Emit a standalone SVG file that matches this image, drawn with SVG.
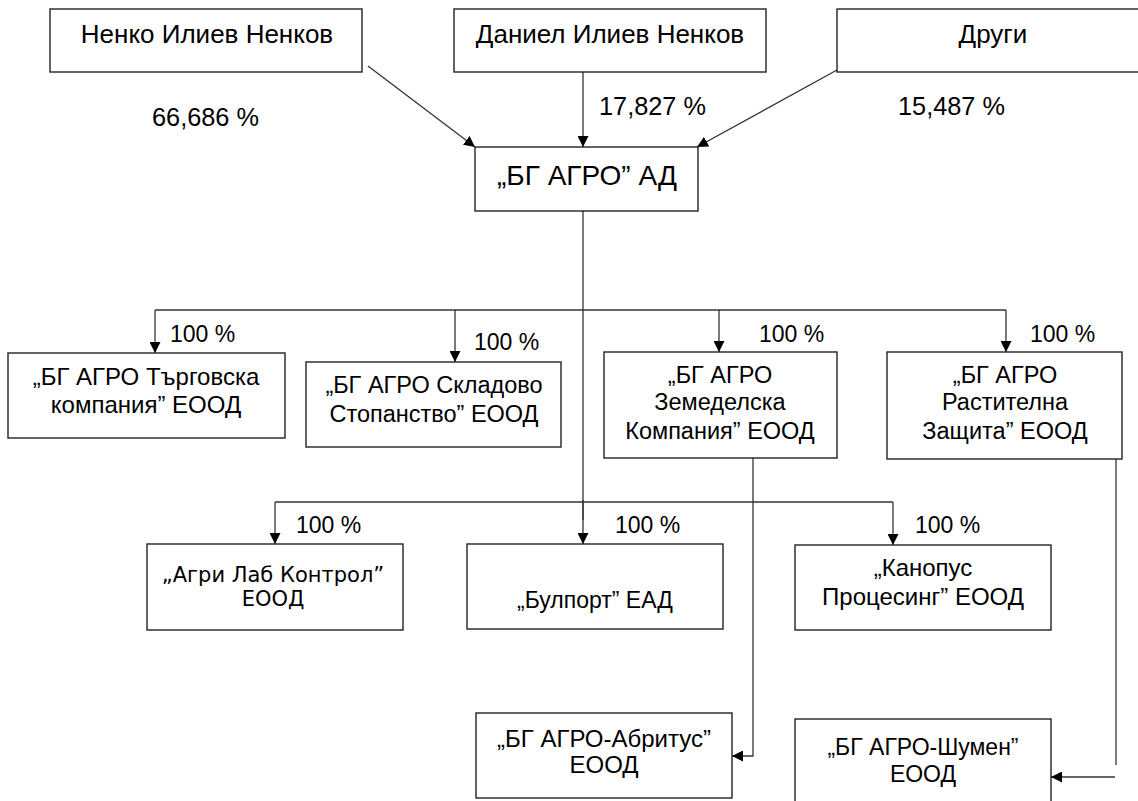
<svg xmlns="http://www.w3.org/2000/svg" width="1138" height="801" viewBox="0 0 1138 801">
<style>
.box{fill:#fff;stroke:#222;stroke-width:1.4}
.t{font-family:"Liberation Sans",Arial,sans-serif;font-size:23.5px;fill:#000;text-anchor:middle}
.big{font-size:26px}
.p{font-family:"Liberation Sans",Arial,sans-serif;font-size:23px;fill:#000}
.pb{font-size:25.3px}
.ln{fill:none;stroke:#333;stroke-width:1.3}
.arr{fill:none;stroke:#333;stroke-width:1.3;marker-end:url(#ah)}
</style>
<defs>
<marker id="ah" viewBox="0 0 10 10" refX="10" refY="5" markerWidth="11" markerHeight="11" markerUnits="userSpaceOnUse" orient="auto">
<path d="M0,0 L10,5 L0,10 Z" fill="#000"/>
</marker>
</defs>
<rect width="1138" height="801" fill="#fff"/>

<g id="connectors">
<line class="arr" x1="368" y1="66" x2="475" y2="147"/>
<line class="arr" x1="583" y1="66" x2="583" y2="147"/>
<line class="arr" x1="837" y1="70" x2="697" y2="147"/>
<line class="ln" x1="583" y1="211" x2="583" y2="520"/>
<line class="arr" x1="583" y1="500" x2="583" y2="544"/>
<line class="ln" x1="155" y1="310" x2="1006" y2="310"/>
<line class="arr" x1="155" y1="310" x2="155" y2="353"/>
<line class="arr" x1="455" y1="310" x2="455" y2="362"/>
<line class="arr" x1="719" y1="310" x2="719" y2="352"/>
<line class="arr" x1="1006" y1="310" x2="1006" y2="352"/>
<line class="ln" x1="275" y1="502" x2="893" y2="502"/>
<line class="arr" x1="275" y1="502" x2="275" y2="544"/>
<line class="arr" x1="893" y1="502" x2="893" y2="545"/>
<polyline class="arr" points="753,458 753,756 732,756"/>
<line class="ln" x1="1116" y1="459" x2="1116" y2="765"/>
<line class="arr" x1="1115" y1="777" x2="1051" y2="777"/>
</g>

<g id="n-nenko">
<rect class="box" x="50" y="9" width="312" height="63"/>
<text class="t big" x="207" y="43">Ненко Илиев Ненков</text>
</g>
<g id="n-daniel">
<rect class="box" x="454" y="9" width="312" height="63"/>
<text class="t big" x="610" y="43">Даниел Илиев Ненков</text>
</g>
<g id="n-drugi">
<rect class="box" x="837" y="9" width="313" height="63"/>
<text class="t big" x="993" y="43">Други</text>
</g>
<g id="labels-top">
<text class="p pb" x="152" y="126">66,686 %</text>
<text class="p pb" x="599" y="115">17,827 %</text>
<text class="p pb" x="898" y="115">15,487 %</text>
</g>
<g id="n-bgagro">
<rect class="box" x="475" y="147" width="223" height="64"/>
<text class="t" x="587" y="185" style="font-size:28px">„БГ АГРО” АД</text>
</g>

<g id="labels-100">
<text class="p" x="170" y="342">100 %</text>
<text class="p" x="474" y="350">100 %</text>
<text class="p" x="759" y="342">100 %</text>
<text class="p" x="1030" y="342">100 %</text>
<text class="p" x="296" y="533">100 %</text>
<text class="p" x="615" y="533">100 %</text>
<text class="p" x="915" y="533">100 %</text>
</g>

<g id="n-targovska">
<rect class="box" x="8" y="353" width="277" height="85"/>
<text class="t" x="146" y="385" style="font-size:24px">„БГ АГРО Търговска</text>
<text class="t" x="146" y="413" style="font-size:24px">компания” ЕООД</text>
</g>
<g id="n-skladovo">
<rect class="box" x="306" y="362" width="255" height="85"/>
<text class="t" x="434" y="393">„БГ АГРО Складово</text>
<text class="t" x="434" y="422">Стопанство” ЕООД</text>
</g>
<g id="n-zemedelska">
<rect class="box" x="604" y="352" width="233" height="106"/>
<text class="t" x="720" y="383">„БГ АГРО</text>
<text class="t" x="720" y="410">Земеделска</text>
<text class="t" x="720" y="439">Компания” ЕООД</text>
</g>
<g id="n-rastitelna">
<rect class="box" x="887" y="352" width="235" height="107"/>
<text class="t" x="1005" y="383">„БГ АГРО</text>
<text class="t" x="1005" y="410">Растителна</text>
<text class="t" x="1005" y="439">Защита” ЕООД</text>
</g>

<g id="n-agrilab">
<rect class="box" x="147" y="544" width="256" height="86"/>
<text class="t" x="273" y="582" style="font-family:'DejaVu Sans',sans-serif;font-size:21px">„Агри Лаб Контрол”</text>
<text class="t" x="273" y="606" style="font-family:'DejaVu Sans',sans-serif;font-size:21px">ЕООД</text>
</g>
<g id="n-bulport">
<rect class="box" x="467" y="544" width="256" height="85"/>
<text class="t" x="595" y="608" style="font-size:23px">„Булпорт” ЕАД</text>
</g>
<g id="n-kanopus">
<rect class="box" x="795" y="545" width="256" height="85"/>
<text class="t" x="923" y="576" style="font-size:24px">„Канопус</text>
<text class="t" x="923" y="605" style="font-size:24px">Процесинг” ЕООД</text>
</g>

<g id="n-abritus">
<rect class="box" x="476" y="713" width="256" height="85"/>
<text class="t" x="604" y="747" style="font-size:24px">„БГ АГРО-Абритус”</text>
<text class="t" x="604" y="773" style="font-size:24px">ЕООД</text>
</g>
<g id="n-shumen">
<rect class="box" x="795" y="719" width="256" height="95"/>
<text class="t" x="923" y="755" style="font-size:23px">„БГ АГРО-Шумен”</text>
<text class="t" x="923" y="782" style="font-size:23px">ЕООД</text>
</g>
</svg>
